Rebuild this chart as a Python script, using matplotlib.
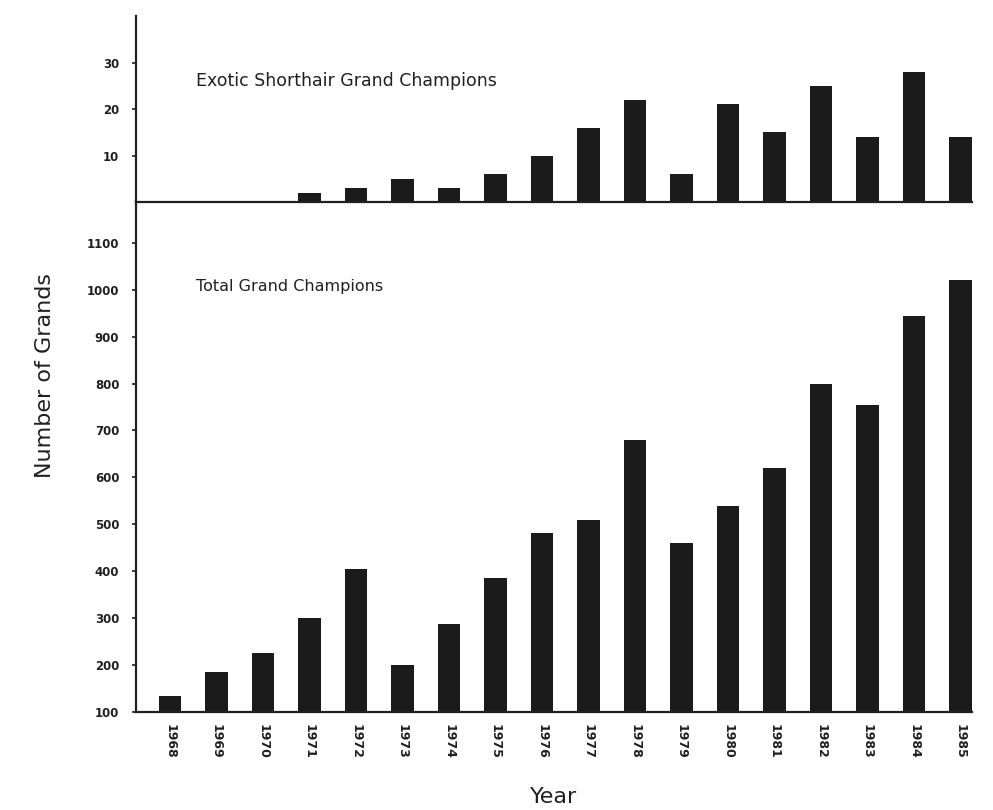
import numpy as np
import matplotlib
matplotlib.use('Agg')
import matplotlib.pyplot as plt

##### Data #####
years = ['1968', '1969', '1970', '1971', '1972', '1973', '1974', '1975', '1976',
         '1977', '1978', '1979', '1980', '1981', '1982', '1983', '1984', '1985']
exotic_grands = [0, 0, 0, 2, 3, 5, 3, 6, 10, 16, 22, 6, 21, 15, 25, 14, 28, 14]
total_grands = [135, 185, 225, 300, 405, 200, 288, 385, 482, 510, 680, 460,
                540, 620, 800, 755, 945, 1020]
exotic_ticks = [10, 20, 30]
total_ticks = [100, 200, 300, 400, 500, 600, 700, 800, 900, 1000, 1100]

bar_color = '#1b1b1b'
text_color = '#202020'
plt.rcParams['font.family'] = ['DejaVu Sans']


def style_axis(ax):
    '''
    Old print look: only the left and bottom lines, short outward ticks
    '''
    ax.spines['top'].set_visible(False)
    ax.spines['right'].set_visible(False)
    ax.spines['left'].set_linewidth(1.6)
    ax.spines['bottom'].set_linewidth(1.6)
    ax.spines['left'].set_color(text_color)
    ax.spines['bottom'].set_color(text_color)
    ax.tick_params(axis='y', direction='out', length=3, width=1.2,
                   labelsize=8.5, pad=9, colors=text_color)
    for lab in ax.get_yticklabels():
        lab.set_fontweight('bold')


fig = plt.figure(figsize=(9.93, 8.1), dpi=100)
ax_top = fig.add_axes([0.137, 0.7506, 0.842, 0.2296])
ax_bot = fig.add_axes([0.137, 0.121, 0.842, 0.6296], sharex=ax_top)
# lower panel background would hide half of the upper baseline
ax_bot.patch.set_visible(False)
ax_top.patch.set_visible(False)

x = np.arange(len(years))

# Upper panel - Exotic Shorthair
ax_top.bar(x, exotic_grands, width=0.48, color=bar_color)
ax_top.set_ylim(0, 40)
ax_top.set_yticks(exotic_ticks)
ax_top.set_yticklabels([str(t) for t in exotic_ticks])
style_axis(ax_top)
ax_top.tick_params(axis='x', bottom=False, labelbottom=False)

# Lower panel - all grand champions
ax_bot.bar(x, total_grands, width=0.48, color=bar_color)
ax_bot.set_ylim(100, 1187)
ax_bot.set_yticks(total_ticks)
ax_bot.set_yticklabels([str(t) for t in total_ticks])
style_axis(ax_bot)
ax_bot.set_xlim(-0.73, 17.25)
ax_bot.set_xticks(x)
ax_bot.set_xticklabels(years, rotation=270, fontsize=9, fontweight='bold',
                       color=text_color)
ax_bot.tick_params(axis='x', length=0, pad=9)

ax_top.text(0.072, 0.65, 'Exotic Shorthair Grand Champions', transform=ax_top.transAxes,
            fontsize=12.5, color=text_color, va='center')
ax_bot.text(0.072, 0.835, 'Total Grand Champions', transform=ax_bot.transAxes,
            fontsize=11.5, color=text_color, va='center')

fig.text(0.045, 0.537, 'Number of Grands', rotation=90, fontsize=16,
         color=text_color, ha='center', va='center')
fig.text(0.558, 0.016, 'Year', fontsize=16, color=text_color, ha='center', va='center')

fig.savefig('out.png', dpi=100, facecolor='white')
